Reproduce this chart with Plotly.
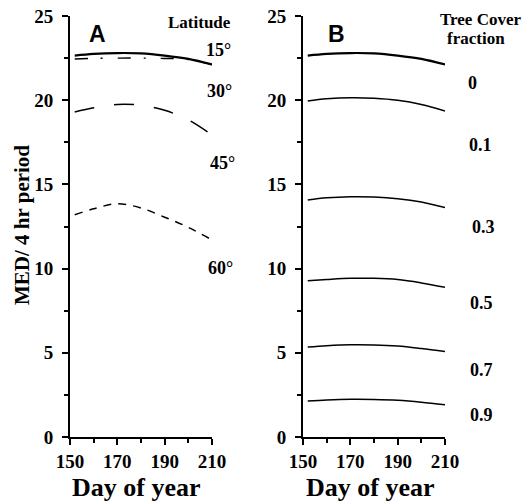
import plotly.graph_objects as go

days = [152, 160, 170, 180, 190, 200, 210]

lat_15 = [22.65, 22.75, 22.8, 22.78, 22.65, 22.45, 22.12]
lat_30 = [22.45, 22.48, 22.5, 22.5, 22.48, 22.42, 22.1]
lat_45 = [19.3, 19.55, 19.75, 19.7, 19.4, 18.83, 17.93]
lat_60 = [13.2, 13.55, 13.85, 13.6, 13.05, 12.45, 11.7]

tc_0 = [22.65, 22.75, 22.8, 22.78, 22.65, 22.45, 22.12]
tc_01 = [19.95, 20.08, 20.15, 20.12, 20.0, 19.75, 19.36]
tc_03 = [14.07, 14.2, 14.27, 14.25, 14.15, 13.95, 13.62]
tc_05 = [9.28, 9.35, 9.42, 9.42, 9.35, 9.15, 8.89]
tc_07 = [5.34, 5.42, 5.48, 5.47, 5.4, 5.25, 5.07]
tc_09 = [2.14, 2.2, 2.24, 2.23, 2.18, 2.07, 1.92]

lat_labels = ["15°", "30°", "45°", "60°"]
tc_labels = ["0", "0.1", "0.3", "0.5", "0.7", "0.9"]
x_ticks = [150, 170, 190, 210]
y_ticks = [0, 5, 10, 15, 20, 25]

W, H = 524, 502
def px(x): return x / W
def py(y): return 1 - y / H

fig = go.Figure()
a_series = [
    (lat_15, "solid", 2.2),
    (lat_30, "13px,13px,2px,15px", 1.4),
    (lat_45, "20px,20px", 1.5),
    (lat_60, "8px,7px", 1.5),
]
for vals, dash, w in a_series:
    fig.add_trace(go.Scatter(x=days, y=vals, mode="lines", xaxis="x", yaxis="y",
                             line=dict(color="black", width=w, dash=dash, shape="spline"),
                             showlegend=False))
b_series = [(tc_0, 2.2), (tc_01, 1.5), (tc_03, 1.5), (tc_05, 1.5), (tc_07, 1.5), (tc_09, 1.5)]
for vals, w in b_series:
    fig.add_trace(go.Scatter(x=days, y=vals, mode="lines", xaxis="x2", yaxis="y2",
                             line=dict(color="black", width=w, shape="spline"),
                             showlegend=False))

tickfont = dict(family="Liberation Serif", size=19, color="black", weight="bold")
common_x = dict(range=[150, 210], tickvals=x_ticks, ticks="outside", ticklen=6, tickwidth=2,
                showline=True, linewidth=2, linecolor="black", showgrid=False, zeroline=False,
                tickfont=tickfont, tickcolor="black", automargin=False, ticklabelstandoff=0,
                ticklabeloverflow="allow",
                minor=dict(dtick=10, tick0=150, ticks="outside", ticklen=4, tickwidth=1.5, tickcolor="black"))
common_y = dict(range=[0, 25], tickvals=y_ticks, ticks="outside", ticklen=6, tickwidth=2,
                showline=True, linewidth=2, linecolor="black", showgrid=False, zeroline=False,
                tickfont=tickfont, tickcolor="black", ticklabelstandoff=5, automargin=False,
                ticklabeloverflow="allow",
                minor=dict(dtick=2.5, tick0=0, ticks="outside", ticklen=4, tickwidth=1.5, tickcolor="black"))

ydom = [py(437), py(16)]
fig.update_layout(
    width=W, height=H, margin=dict(l=0, r=0, t=0, b=0),
    plot_bgcolor="white", paper_bgcolor="white",
    xaxis=dict(domain=[px(70), px(212)], anchor="y", **common_x),
    yaxis=dict(domain=ydom, anchor="x", **common_y),
    xaxis2=dict(domain=[px(303), px(445)], anchor="y2", **common_x),
    yaxis2=dict(domain=ydom, anchor="x2", **common_y),
    font=dict(family="Liberation Serif", color="black"),
)

ann = []
def add(text, x, y, size=18, family="Liberation Serif", xanchor="center"):
    ann.append(dict(text=text, x=px(x), y=py(y), xref="paper", yref="paper", showarrow=False,
                    xanchor=xanchor, yanchor="middle", font=dict(family=family, size=size, color="black", weight="bold")))

add("MED/ 4 hr period", 22, 225, size=21)
ann[-1]["textangle"] = -90
add("Day of year", 136, 487, size=26)
add("Day of year", 370, 487, size=26)
add("A", 97, 34, size=23, family="Liberation Sans")
add("B", 336, 34, size=23, family="Liberation Sans")
add("Latitude", 199, 23, size=17)
for lab, (x, y) in zip(lat_labels, [(218, 50), (219, 91), (222, 163), (220, 268)]):
    add(lab, x, y)
add("Tree Cover", 480, 20, size=17)
add("fraction", 476, 38, size=17)
for lab, (x, y) in zip(tc_labels, [(472, 83), (480, 145), (483, 227), (481, 303), (481, 370), (481, 415)]):
    add(lab, x, y)
fig.update_layout(annotations=ann)

fig.write_html("out.html", config={"displayModeBar": False},
               post_script="document.body.style.margin='0';document.body.style.overflow='hidden';")
